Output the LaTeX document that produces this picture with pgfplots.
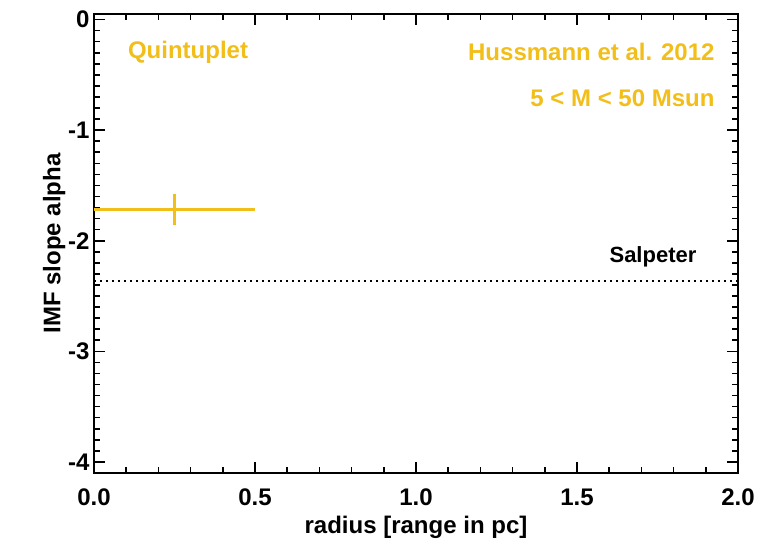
\documentclass[border=0pt]{standalone}
\usepackage{pgfplots}
\pgfplotsset{compat=1.18}
\usepackage{fontspec}
\setmainfont{Liberation Sans}
\definecolor{gold}{RGB}{242,190,25}
\begin{document}
\begin{tikzpicture}
\begin{axis}[
  at={(0,0)}, anchor=south west,
  scale only axis, width=644pt, height=459pt,
  xmin=0, xmax=2, ymin=-4.1, ymax=0.05,
  xtick={0,0.5,1,1.5,2},
  xticklabels={0.0,0.5,1.0,1.5,2.0},
  ytick={-4,-3,-2,-1,0},
  minor x tick num=4, minor y tick num=9,
  tick align=inside,
  major tick length=11pt, minor tick length=6pt,
  every tick/.style={black, line width=1.6pt},
  axis line style={line width=1.8pt},
  /pgf/number format/assume math mode=true,
  ticklabel style={font=\bfseries\fontsize{24}{28}\selectfont},
  xticklabel style={yshift=-12pt},
  yticklabel style={xshift=-1pt},
  xlabel={radius [range in pc]},
  ylabel={IMF slope alpha},
  label style={font=\bfseries\fontsize{24}{28}\selectfont},
  xlabel style={yshift=-4pt},
  ylabel style={yshift=-4pt},
  clip=false,
]
\addplot[gold, line width=2.6pt, mark=none,
  error bars/.cd, x dir=both, x explicit, y dir=both, y explicit,
  error mark=none, error bar style={gold, line width=2.6pt}]
  coordinates {(0.25,-1.72) +- (0.25,0.14)};
\addplot[black, line width=2pt, dash pattern=on 2pt off 4pt]
  coordinates {(0,-2.36) (2,-2.36)};
\node[gold, font=\bfseries\fontsize{24}{28}\selectfont] at (axis cs:0.292,-0.295) {Quintuplet};
\node[gold, font=\bfseries\fontsize{24}{28}\selectfont, anchor=east] at (axis cs:1.938,-0.295) {Hussmann et al. 2012};
\node[gold, font=\bfseries\fontsize{24}{28}\selectfont, anchor=east] at (axis cs:1.938,-0.71) {5 < M < 50 Msun};
\node[black, font=\bfseries\fontsize{22}{26}\selectfont] at (axis cs:1.736,-2.145) {Salpeter};
\end{axis}
\pgfresetboundingbox
\path (-94pt,-72pt) rectangle (673pt,473pt);
\end{tikzpicture}
\end{document}
